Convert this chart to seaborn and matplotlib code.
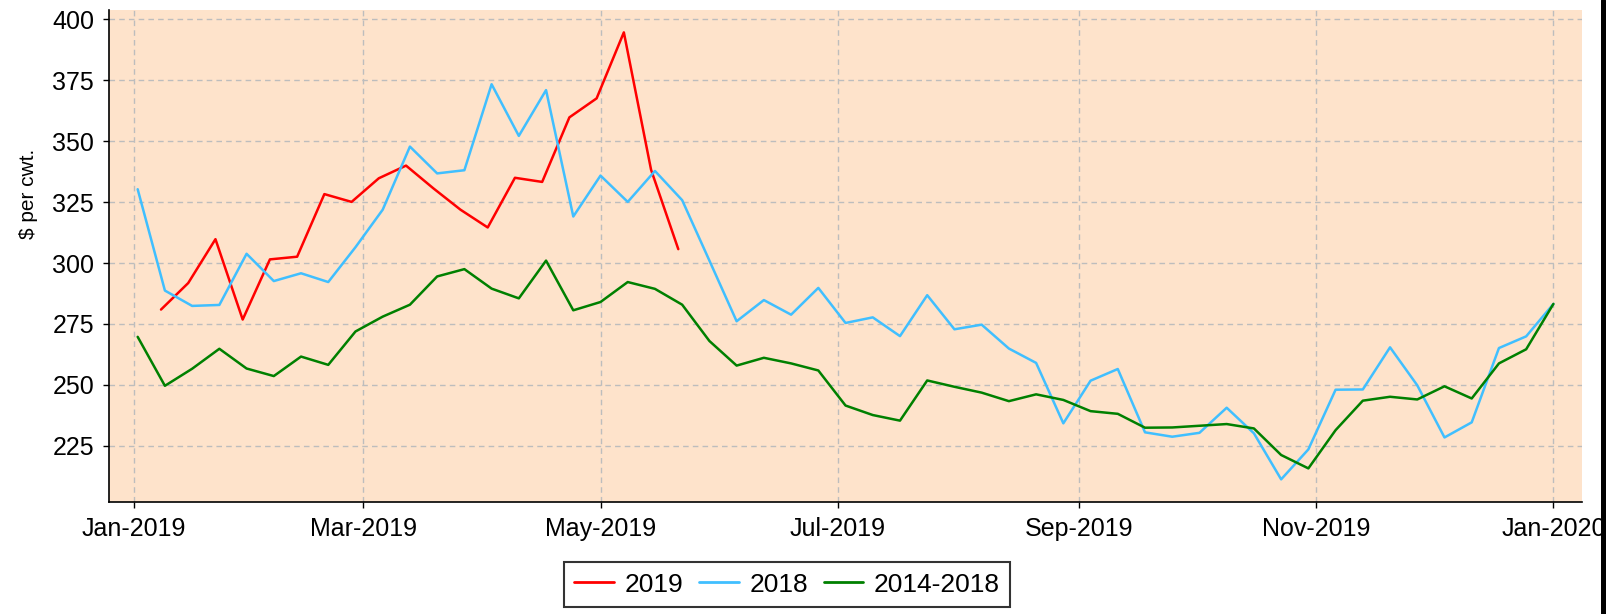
import pandas as pd
import matplotlib
matplotlib.use("Agg")
import matplotlib.pyplot as plt
import matplotlib.dates as mdates
from matplotlib.lines import Line2D
import seaborn as sns

# weekly prices, $ per cwt.
series_names = ["2019", "2018", "2014-2018"]
series_colors = ["#FF0000", "#40BFFF", "#008000"]

dates_2019 = pd.date_range("2019-01-08", periods=20, freq="7D")
dates_hist = pd.date_range("2019-01-02", periods=53, freq="7D")

price_2019 = [280.9, 291.8, 309.8, 276.8, 301.5, 302.6, 328.3, 325.1, 334.8, 340.0,
              330.7, 321.9, 314.6, 335.0, 333.3, 359.8, 367.6, 394.7, 338.3, 305.7]

price_2018 = [330.3, 288.7, 282.4, 282.8, 303.8, 292.6, 295.8, 292.2, 306.5, 321.9,
              347.8, 336.8, 338.1, 373.4, 352.2, 371.0, 319.1, 335.9, 325.1, 337.8,
              325.8, 301.0, 276.1, 284.8, 278.8, 289.8, 275.4, 277.7, 270.0, 286.8,
              272.8, 274.7, 264.9, 259.0, 234.2, 251.7, 256.5, 230.5, 228.7, 230.3,
              240.6, 230.1, 211.2, 223.5, 248.0, 248.1, 265.4, 249.8, 228.4, 234.6,
              265.1, 269.9, 283.2]

price_avg = [269.7, 249.6, 256.6, 264.8, 256.7, 253.6, 261.6, 258.2, 271.9, 278.0,
             282.9, 294.5, 297.5, 289.5, 285.5, 301.0, 280.6, 284.0, 292.2, 289.4,
             282.9, 268.0, 257.9, 261.1, 258.8, 255.9, 241.5, 237.6, 235.3, 251.8,
             249.2, 246.8, 243.3, 246.1, 243.8, 239.2, 238.1, 232.4, 232.5, 233.2,
             233.9, 232.1, 221.2, 215.7, 231.4, 243.5, 245.1, 244.0, 249.4, 244.4,
             258.8, 264.6, 283.2]

df = pd.concat([
    pd.DataFrame({"date": dates_2019, "price": price_2019, "series": "2019"}),
    pd.DataFrame({"date": dates_hist, "price": price_2018, "series": "2018"}),
    pd.DataFrame({"date": dates_hist, "price": price_avg, "series": "2014-2018"}),
])

sns.set_theme(style="ticks", rc={"text.color": "black", "axes.labelcolor": "black",
                                 "xtick.color": "black", "ytick.color": "black"})
plt.rcParams['font.family'] = ['Liberation Sans', 'DejaVu Sans']

fig = plt.figure(figsize=(16.13, 6.14), dpi=100)
ax = fig.add_axes([0.0678, 0.1829, 0.9128, 0.8008])
ax.set_facecolor("#FEE3CB")

sns.lineplot(data=df, x="date", y="price", hue="series", hue_order=series_names,
             palette=series_colors, linewidth=1.8, estimator=None, ax=ax)

ax.margins(x=0.02)
ax.xaxis.set_major_locator(mdates.MonthLocator(bymonth=[1, 3, 5, 7, 9, 11]))
ax.xaxis.set_major_formatter(mdates.DateFormatter("%b-%Y"))
ax.set_yticks([225, 250, 275, 300, 325, 350, 375, 400])

ax.grid(True, color="#BDBDBD", linestyle=(0, (4, 3)), linewidth=1.0)
ax.set_axisbelow(True)
for s in ["top", "right"]:
    ax.spines[s].set_visible(False)
for s in ["left", "bottom"]:
    ax.spines[s].set_color("black")
    ax.spines[s].set_linewidth(1.2)

ax.tick_params(axis="both", labelsize=18, length=4, width=1, pad=7)
ax.set_xlabel("")
ax.set_ylabel("\\$ per cwt.", fontsize=15)
ax.yaxis.set_label_coords(-0.0484, 0.626)

leg = ax.legend(loc="upper center", bbox_to_anchor=(787 / 1613, 1 - 562 / 614),
                bbox_transform=fig.transFigure, ncol=3, fontsize=19, frameon=True,
                fancybox=False, borderaxespad=0, handlelength=1.5,
                handletextpad=0.4, columnspacing=0.6, title=None)
leg.get_frame().set_edgecolor("black")
leg.get_frame().set_linewidth(1.5)
for h in leg.get_lines():
    h.set_linewidth(2)

# black bar at the right edge of the picture
fig.add_artist(Line2D([0.9939, 0.9939], [0, 1], transform=fig.transFigure,
                      color="black", linewidth=3.6, zorder=10))

fig.savefig("out.png", dpi=100)
